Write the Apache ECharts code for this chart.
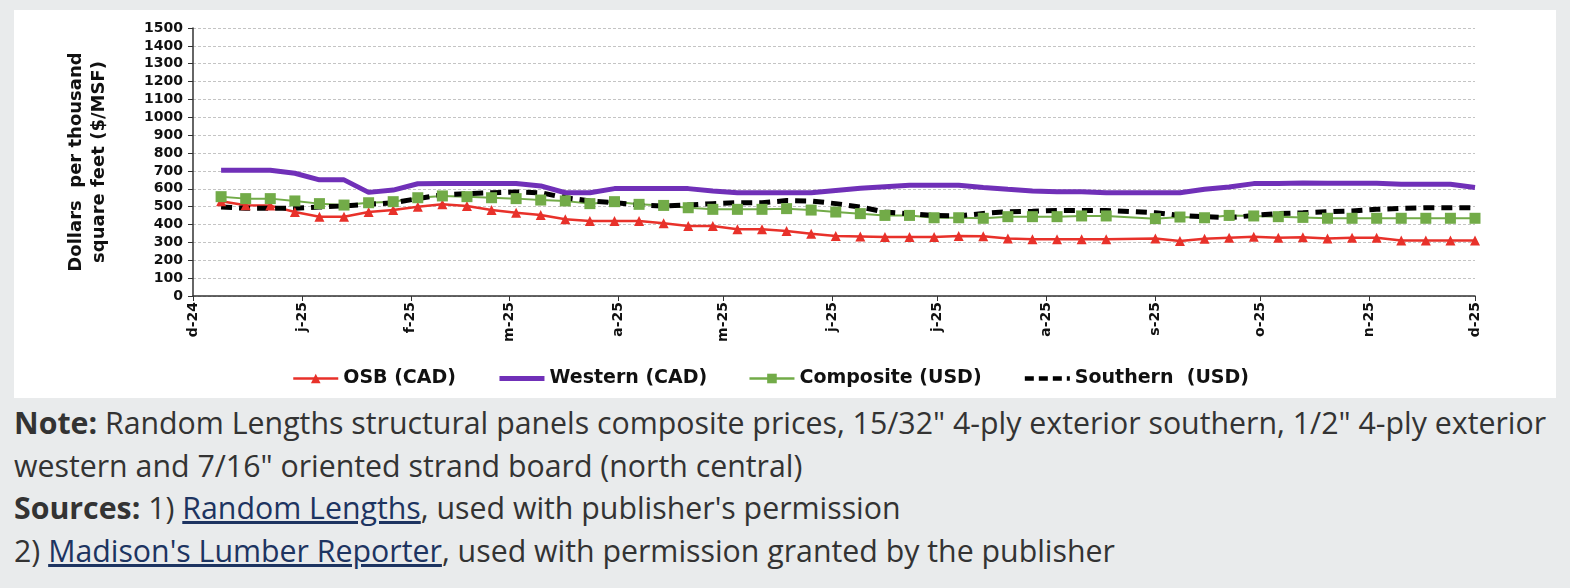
<!DOCTYPE html>
<html>
<head>
<meta charset="utf-8">
<script src="https://cdn.jsdelivr.net/npm/echarts@6/dist/echarts.min.js"></script>
<style>
	html, body { margin: 0; padding: 0; background: #e9ebec; width: 1570px; height: 588px; overflow: hidden; }
	#chart { position: absolute; left: 14px; top: 10px; width: 1542px; height: 388px; background: #fff; }
	#note { position: absolute; left: 14px; top: 402px; font-family: 'Open Sans', sans-serif; font-size: 30.3px; line-height: 42.5px; color: #333; white-space: nowrap; }
	#note a { color: #1d3461; text-decoration: underline; }
</style>
</head>
<body>
<div id="chart"></div>
<div id="note">
	<b>Note:</b> Random Lengths structural panels composite prices, 15/32" 4-ply exterior southern, 1/2" 4-ply exterior<br>
	western and 7/16" oriented strand board (north central)<br>
	<b>Sources:</b> 1) <a>Random Lengths</a>, used with publisher's permission<br>
	2) <a>Madison's Lumber Reporter</a>, used with permission granted by the publisher
</div>
<script>
// weekly price dates (no data for the week of 2025-08-25)
const weekDates = [
	'2024-12-09', '2024-12-16', '2024-12-23', '2024-12-30',
	'2025-01-06', '2025-01-13', '2025-01-20', '2025-01-27',
	'2025-02-03', '2025-02-10', '2025-02-17', '2025-02-24',
	'2025-03-03', '2025-03-10', '2025-03-17', '2025-03-24', '2025-03-31',
	'2025-04-07', '2025-04-14', '2025-04-21', '2025-04-28',
	'2025-05-05', '2025-05-12', '2025-05-19', '2025-05-26',
	'2025-06-02', '2025-06-09', '2025-06-16', '2025-06-23', '2025-06-30',
	'2025-07-07', '2025-07-14', '2025-07-21', '2025-07-28',
	'2025-08-04', '2025-08-11', '2025-08-18',
	'2025-09-01', '2025-09-08', '2025-09-15', '2025-09-22', '2025-09-29',
	'2025-10-06', '2025-10-13', '2025-10-20', '2025-10-27',
	'2025-11-03', '2025-11-10', '2025-11-17', '2025-11-24',
	'2025-12-01'
];

// $/MSF
const osbCad = [530, 508, 506, 470, 444, 444, 470, 481, 500, 513, 504, 481, 466, 453, 429, 420, 420, 420, 407, 392, 392, 373, 373, 364, 349, 336, 333, 330, 330, 330, 336, 334, 322, 317, 317, 317, 317, 322, 308, 320, 326, 332, 326, 329, 322, 326, 326, 311, 311, 311, 311];
const westernCad = [704, 704, 704, 687, 650, 650, 580, 593, 628, 630, 630, 630, 630, 616, 578, 578, 601, 601, 601, 601, 588, 578, 578, 578, 578, 591, 603, 612, 620, 620, 620, 607, 597, 588, 584, 584, 578, 578, 578, 597, 610, 629, 629, 632, 631, 631, 631, 625, 625, 625, 607];
const compositeUsd = [556, 545, 545, 532, 517, 509, 522, 528, 550, 560, 556, 550, 545, 537, 532, 517, 528, 513, 507, 494, 485, 485, 485, 489, 481, 470, 461, 451, 451, 438, 438, 435, 444, 444, 444, 448, 448, 433, 442, 438, 451, 448, 444, 440, 435, 435, 435, 435, 435, 435, 435];
const southernUsd = [498, 491, 491, 491, 498, 504, 513, 522, 545, 567, 573, 578, 582, 578, 550, 532, 522, 509, 504, 509, 517, 522, 522, 534, 532, 517, 498, 470, 461, 451, 448, 462, 472, 474, 479, 479, 479, 466, 451, 444, 438, 451, 461, 466, 472, 476, 485, 491, 494, 494, 494];

// x축 월 눈금
const monthTicks = ['2024-12-01', '2025-01-01', '2025-02-01', '2025-03-01', '2025-04-01', '2025-05-01', '2025-06-01', '2025-07-01', '2025-08-01', '2025-09-01', '2025-10-01', '2025-11-01', '2025-12-01'];
const monthLabels = ['d-24', 'j-25', 'f-25', 'm-25', 'a-25', 'm-25', 'j-25', 'j-25', 'a-25', 's-25', 'o-25', 'n-25', 'd-25'];

const yTicks = { min: 0, max: 1500, interval: 100 };

const day0 = Date.parse(monthTicks[0]);
const toDay = (s) => Math.round((Date.parse(s) - day0) / 86400000);
const tickDays = monthTicks.map(toDay);
const pairs = (vals) => weekDates.map((d, i) => [toDay(d), vals[i]]);

const labelFont = { fontFamily: 'DejaVu Sans', fontWeight: 'bold', color: '#111' };

const option = {
	animation: false,
	grid: { left: 179, top: 18, width: 1282, height: 268 },
	legend: {
		left: 273,
		top: 354,
		itemGap: 41,
		itemWidth: 45,
		itemHeight: 12,
		textStyle: Object.assign({ fontSize: 19 }, labelFont),
		data: [
			{ name: 'OSB (CAD)', lineStyle: { width: 2.5 } },
			{ name: 'Western (CAD)', itemStyle: { opacity: 0 }, lineStyle: { width: 5 } },
			{ name: 'Composite (USD)', lineStyle: { width: 2.5 } },
			{ name: 'Southern  (USD)', itemStyle: { opacity: 0 }, lineStyle: { width: 4.5, type: [9, 5] } },
		],
	},
	xAxis: {
		type: 'value',
		min: tickDays[0],
		max: tickDays[tickDays.length - 1],
		axisLine: { show: true, lineStyle: { color: '#333', width: 1.5 } },
		axisTick: { show: true, customValues: tickDays, length: 5, lineStyle: { color: '#333' } },
		axisLabel: Object.assign({
			customValues: tickDays,
			rotate: 90,
			fontSize: 14,
			margin: 6,
			formatter: (v) => monthLabels[tickDays.indexOf(v)],
		}, labelFont),
		splitLine: { show: false },
	},
	yAxis: {
		type: 'value',
		min: yTicks.min,
		max: yTicks.max,
		interval: yTicks.interval,
		name: 'Dollars  per thousand\nsquare feet ($/MSF)',
		nameLocation: 'middle',
		nameRotate: 90,
		nameGap: 82,
		nameTextStyle: Object.assign({ fontSize: 18, lineHeight: 23 }, labelFont),
		axisLine: { show: true, lineStyle: { color: '#333', width: 1.5 } },
		axisTick: { show: true, length: 5, lineStyle: { color: '#333' } },
		axisLabel: Object.assign({ fontSize: 14, margin: 10, formatter: (v) => String(v) }, labelFont),
		splitLine: { show: true, lineStyle: { color: '#c4c4c4', type: [3, 2], width: 1 } },
	},
	series: [
		{
			name: 'OSB (CAD)',
			type: 'line',
			data: pairs(osbCad),
			symbol: 'triangle',
			symbolSize: 10,
			itemStyle: { color: '#e8312a' },
			lineStyle: { color: '#e8312a', width: 2.5 },
		},
		{
			name: 'Western (CAD)',
			type: 'line',
			data: pairs(westernCad),
			symbol: 'none',
			itemStyle: { color: '#7030b8' },
			lineStyle: { color: '#7030b8', width: 5 },
		},
		{
			name: 'Composite (USD)',
			type: 'line',
			data: pairs(compositeUsd),
			symbol: 'rect',
			symbolSize: 11,
			itemStyle: { color: '#72ab48' },
			lineStyle: { color: '#72ab48', width: 2 },
		},
		{
			name: 'Southern  (USD)',
			type: 'line',
			data: pairs(southernUsd),
			symbol: 'none',
			itemStyle: { color: '#000' },
			lineStyle: { color: '#000', width: 5, type: [11, 7] },
		},
	],
};

const myChart = echarts.init(document.getElementById('chart'), null, { renderer: 'canvas' });
myChart.setOption(option);
window.addEventListener('resize', myChart.resize);
</script>
</body>
</html>
